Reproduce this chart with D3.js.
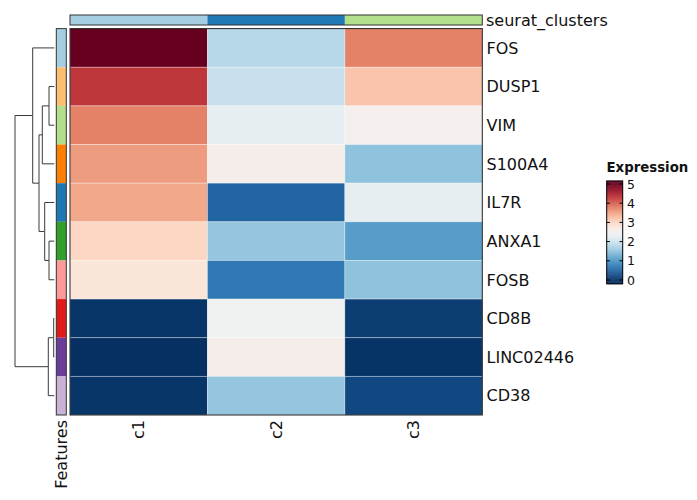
<!DOCTYPE html>
<html>
<head>
<meta charset="utf-8">
<script src="https://cdn.jsdelivr.net/npm/d3@7"></script>
<style>
  body { margin: 0; background: #fff; }
  text { font-family: "DejaVu Sans", sans-serif; }
</style>
</head>
<body>
<div id="chart"></div>
<script>
// data
var features = ["FOS", "DUSP1", "VIM", "S100A4", "IL7R", "ANXA1", "FOSB", "CD8B", "LINC02446", "CD38"];
var clusters = ["c1", "c2", "c3"];
var c1 = [5.0, 4.3, 3.75, 3.55, 3.45, 3.0, 2.8, 0.05, 0.0, 0.05];
var c2 = [1.8, 1.95, 2.3, 2.6, 0.5, 1.55, 0.7, 2.45, 2.6, 1.55];
var c3 = [3.75, 3.2, 2.55, 1.5, 2.3, 1.1, 1.5, 0.12, 0.04, 0.22];
var clusterColors = ["#A6CEE3", "#1F78B4", "#B2DF8A"];
var featureColors = ["#A6CEE3", "#FDBF6F", "#B2DF8A", "#FF7F00", "#1F78B4", "#33A02C", "#FB9A99", "#E31A1C", "#6A3D9A", "#CAB2D6"];
var legendTicks = [0, 1, 2, 3, 4, 5];

// dendrogram merges (height of join)
var tree = {h: 39.3, children: [
  {h: 21.6, children: [
    {leaf: "FOS"},
    {h: 15.3, children: [
      {h: 12, children: [
        {h: 5.3, children: [{leaf: "DUSP1"}, {leaf: "VIM"}]},
        {leaf: "S100A4"}]},
      {h: 9.6, children: [
        {leaf: "IL7R"},
        {h: 5.3, children: [{leaf: "ANXA1"}, {leaf: "FOSB"}]}]}]}]},
  {h: 6, children: [
    {h: 0.6, children: [{leaf: "CD8B"}, {leaf: "LINC02446"}]},
    {leaf: "CD38"}]}]};

var W = 697, H = 500;
var svg = d3.select("#chart").append("svg").attr("width", W).attr("height", H);

var x = d3.scaleBand().domain(clusters).range([70, 482.3]);
var y = d3.scaleBand().domain(features).range([28.6, 415]);
var color = function(v) { return d3.interpolateRdBu(1 - Math.max(0, Math.min(5, v)) / 5); };

var cells = [];
features.forEach(function(f, i) {
  cells.push({f: f, c: "c1", v: c1[i]});
  cells.push({f: f, c: "c2", v: c2[i]});
  cells.push({f: f, c: "c3", v: c3[i]});
});

// heatmap
svg.append("g").selectAll("rect").data(cells).enter().append("rect")
  .attr("x", function(d) { return x(d.c); })
  .attr("y", function(d) { return y(d.f); })
  .attr("width", x.bandwidth())
  .attr("height", y.bandwidth())
  .attr("fill", function(d) { return color(d.v); })
  .attr("stroke", "rgba(255,255,255,0.4)")
  .attr("stroke-width", 0.8);
svg.append("rect").attr("x", 70).attr("y", 28.6).attr("width", 412.3).attr("height", 386.4)
  .attr("fill", "none").attr("stroke", "#222").attr("stroke-width", 1);

// top annotation
svg.append("g").selectAll("rect").data(clusters).enter().append("rect")
  .attr("x", function(d) { return x(d); })
  .attr("y", 15).attr("width", x.bandwidth()).attr("height", 10)
  .attr("fill", function(d, i) { return clusterColors[i]; });
svg.append("rect").attr("x", 70).attr("y", 15).attr("width", 412.3).attr("height", 10)
  .attr("fill", "none").attr("stroke", "#333").attr("stroke-width", 1);
svg.append("text").attr("x", 486).attr("y", 20).attr("dy", "0.36em").attr("font-size", 16).attr("fill", "#111").text("seurat_clusters");

// row annotation
svg.append("g").selectAll("rect").data(features).enter().append("rect")
  .attr("x", 56.3).attr("y", function(d) { return y(d); })
  .attr("width", 10).attr("height", y.bandwidth())
  .attr("fill", function(d, i) { return featureColors[i]; });
svg.append("rect").attr("x", 56.3).attr("y", 28.6).attr("width", 10).attr("height", 386.4)
  .attr("fill", "none").attr("stroke", "#333").attr("stroke-width", 1);

// row labels
svg.append("g").selectAll("text").data(features).enter().append("text")
  .attr("x", 486.5).attr("y", function(d) { return y(d) + y.bandwidth() / 2; })
  .attr("dy", "0.36em").attr("font-size", 16).attr("fill", "#111").text(function(d) { return d; });

// column labels
svg.append("g").selectAll("text").data(clusters).enter().append("text")
  .attr("transform", function(d) { return "translate(" + (x(d) + x.bandwidth() / 2) + ",420) rotate(-90)"; })
  .attr("text-anchor", "end").attr("dy", "0.36em").attr("font-size", 16).attr("fill", "#111")
  .text(function(d) { return d; });
svg.append("text").attr("transform", "translate(61.3,420) rotate(-90)")
  .attr("text-anchor", "end").attr("dy", "0.36em").attr("font-size", 16).attr("fill", "#111")
  .text("Features");

// dendrogram
var hx = d3.scaleLinear().domain([0, 39.3]).range([54.3, 15]);
var dend = svg.append("g").attr("fill", "none").attr("stroke", "#3a3a3a").attr("stroke-width", 1);
function layout(n) {
  if (n.leaf) { n.y = y(n.leaf) + y.bandwidth() / 2; n.x = hx(0); return n; }
  n.children.forEach(layout);
  n.x = hx(n.h);
  n.y = d3.mean(n.children, function(c) { return c.y; });
  n.children.forEach(function(c) {
    dend.append("path").attr("d", "M" + n.x + "," + n.y + "V" + c.y + "H" + c.x);
  });
  return n;
}
layout(tree);

// legend
var ly = d3.scaleLinear().domain([0, 5]).range([280, 184]);
var lg = svg.append("g");
lg.append("text").attr("x", 606.5).attr("y", 172).attr("font-size", 13.3).attr("font-weight", "bold")
  .attr("fill", "#111").text("Expression");
var steps = d3.range(-0.2, 5.16, 0.02);
lg.selectAll("rect.s").data(steps).enter().append("rect")
  .attr("x", 606.7).attr("width", 16).attr("y", function(d) { return ly(d + 0.02); })
  .attr("height", Math.abs(ly(0) - ly(0.02)) + 0.3)
  .attr("fill", function(d) { return color(d); });
lg.selectAll("line.l").data(legendTicks).enter().append("line")
  .attr("x1", 606.7).attr("x2", 609.9).attr("y1", ly).attr("y2", ly).attr("stroke", "#000").attr("stroke-width", 1);
lg.selectAll("line.r").data(legendTicks).enter().append("line")
  .attr("x1", 619.5).attr("x2", 622.7).attr("y1", ly).attr("y2", ly).attr("stroke", "#000").attr("stroke-width", 1);
lg.append("rect").attr("x", 606.7).attr("y", ly(5.16)).attr("width", 16).attr("height", ly(-0.2) - ly(5.16))
  .attr("fill", "none").attr("stroke", "#000").attr("stroke-width", 1);
lg.selectAll("text.t").data(legendTicks).enter().append("text")
  .attr("x", 627).attr("y", ly).attr("dy", "0.36em").attr("font-size", 12.5).attr("fill", "#111")
  .text(function(d) { return d; });
</script>
</body>
</html>
